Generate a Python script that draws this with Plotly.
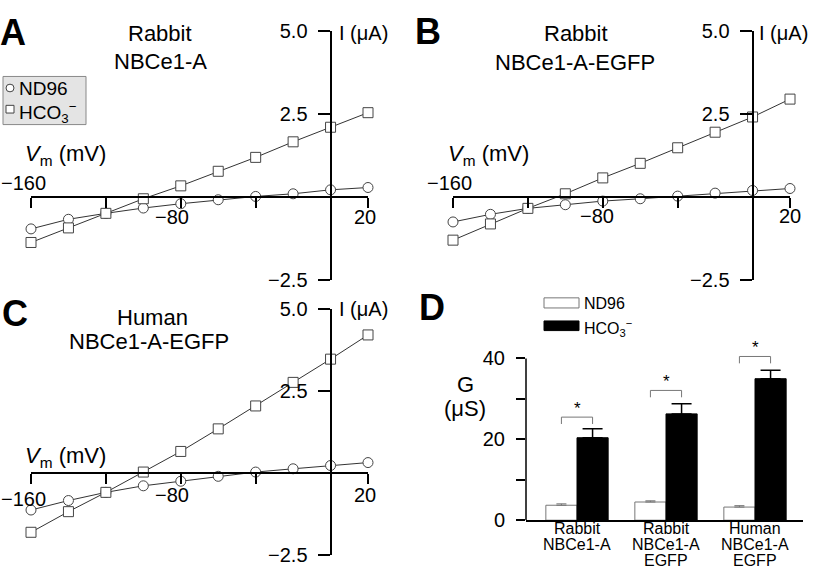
import plotly.graph_objects as go

W, H = 819, 588
FONT = "Liberation Sans, Arial, Helvetica, sans-serif"

# ---------------- data ----------------
voltages = [-160, -140, -120, -100, -80, -60, -40, -20, 0, 20]
a_nd96 = [-0.97, -0.68, -0.50, -0.34, -0.21, -0.09, 0.01, 0.09, 0.21, 0.28]
a_hco3 = [-1.38, -0.94, -0.50, -0.06, 0.33, 0.77, 1.19, 1.66, 2.10, 2.54]
b_nd96 = [-0.76, -0.53, -0.35, -0.24, -0.13, -0.06, 0.02, 0.11, 0.19, 0.25]
b_hco3 = [-1.31, -0.82, -0.35, 0.09, 0.57, 1.01, 1.48, 1.95, 2.41, 2.95]
c_nd96 = [-1.13, -0.84, -0.59, -0.39, -0.25, -0.10, 0.03, 0.13, 0.23, 0.32]
c_hco3 = [-1.81, -1.18, -0.59, 0.03, 0.66, 1.35, 2.05, 2.77, 3.48, 4.22]

v_ticks = [-160, -120, -80, -40, 20]
i_ticks = [-2.5, 2.5, 5.0]
i_tick_text = ["\u22122.5", "2.5", "5.0"]

groups = ["Rabbit<br>NBCe1-A", "Rabbit<br>NBCe1-A<br>EGFP", "Human<br>NBCe1-A<br>EGFP"]
g_nd96 = [3.7, 4.5, 3.25]
g_nd96_err = [0.35, 0.3, 0.35]
g_hco3 = [20.4, 26.3, 35.0]
g_hco3_err = [2.2, 2.5, 2.1]
g_major = [0, 20, 40]
g_minor = [10, 30]


def px(x):
    return x / W


def py(y):
    return 1 - y / H


fig = go.Figure()

# panel geometry (pixels): left, right, top, bottom
panels = {
    "A": dict(n="", box=(31, 368, 21, 279), nd=a_nd96, hc=a_hco3),
    "B": dict(n="2", box=(453, 790, 21, 279), nd=b_nd96, hc=b_hco3),
    "C": dict(n="3", box=(31, 368, 310, 565), nd=c_nd96, hc=c_hco3),
}

marker_common = dict(size=10, color="white", line=dict(color="#444", width=1))
axis_font = dict(family=FONT, size=20, color="black")

for key, p in panels.items():
    n = p["n"]
    l, r, t, b = p["box"]
    zero_y = t + (5.0 / 7.5) * (b - t)
    zero_x = l + (160 / 180) * (r - l)
    xa = "x" + n
    ya = "y" + n
    for vals, sym in ((p["nd"], "circle"), (p["hc"], "square")):
        fig.add_trace(go.Scatter(
            x=voltages, y=vals, mode="lines+markers", xaxis=xa, yaxis=ya,
            line=dict(color="#333", width=1),
            marker=dict(symbol=sym, **marker_common),
            cliponaxis=False, showlegend=False, hoverinfo="skip"))
    fig.update_layout(**{
        "xaxis" + n: dict(domain=[px(l), px(r)], range=[-160, 20], anchor="free",
                          position=py(zero_y), showline=True, linecolor="black",
                          linewidth=2, ticks="outside", ticklen=10, tickwidth=2,
                          tickcolor="black", tickvals=v_ticks, showticklabels=False,
                          showgrid=False, zeroline=False, fixedrange=True),
        "yaxis" + n: dict(domain=[py(b), py(t)], range=[-2.5, 5.0], anchor="free",
                          position=px(zero_x), showline=True, linecolor="black",
                          linewidth=2, ticks="outside", ticklen=12, tickwidth=2,
                          tickcolor="black", tickvals=i_ticks, ticktext=i_tick_text,
                          tickfont=axis_font, ticklabelstandoff=6,
                          showgrid=False, zeroline=False, fixedrange=True),
    })

annotations = []


def ann(text, x, y, size=22, xanchor="center", yanchor="middle", bold=False,
        xref="paper", yref="paper", xshift=0, yshift=0, color="black"):
    if bold:
        text = "<b>" + text + "</b>"
    annotations.append(dict(text=text, x=x, y=y, xref=xref, yref=yref,
                            xanchor=xanchor, yanchor=yanchor, showarrow=False,
                            xshift=xshift, yshift=yshift,
                            font=dict(family=FONT, size=size, color=color)))


# x tick labels of the I-V panels (shifts in pixels relative to tick)
xt_labels = {
    "A": [(-160, -7, 14), (-80, -9, -20), (20, -3, -20)],
    "B": [(-160, -4, 14), (-80, -6, -19), (20, 0, -19)],
    "C": [(-160, -7, -26), (-80, -9, -22), (20, -3, -22)],
}
for key, lst in xt_labels.items():
    n = panels[key]["n"]
    for v, dx, dy in lst:
        ann("\u2212" + str(-v) if v < 0 else str(v), v, 0, size=20,
            xref="x" + n, yref="y" + n, xshift=dx, yshift=dy)

# titles
ann("Rabbit", px(160), py(23))
ann("NBCe1-A", px(160), py(52))
ann("Rabbit", px(576), py(23))
ann("NBCe1-A-EGFP", px(575), py(53))
ann("Human", px(152), py(318))
ann("NBCe1-A-EGFP", px(149), py(343))

# axis titles
for (xl, yc) in ((337, 23), (757, 23), (337, 310)):
    ann("I (\u03bcA)", px(xl), py(yc), size=20, xanchor="left")
for (xl, yc) in ((23, 150), (446, 150), (23, 463)):
    ann("<i>V</i><sub>m</sub> (mV)", px(xl), py(yc), size=22, xanchor="left")

# panel letters
ann("A", px(13), py(22), size=36, bold=True)
ann("B", px(428), py(21), size=36, bold=True)
ann("C", px(15), py(314), size=36, bold=True)
ann("D", px(432), py(308), size=36, bold=True)

shapes = []

# legend for panel A
shapes.append(dict(type="rect", xref="paper", yref="paper", x0=px(3), x1=px(86),
                   y0=py(118), y1=py(68), fillcolor="#e4e4e4",
                   line=dict(color="#888", width=1)))
shapes.append(dict(type="circle", xref="paper", yref="paper", x0=px(6), x1=px(14),
                   y0=py(84), y1=py(76), fillcolor="white",
                   line=dict(color="#444", width=1)))
shapes.append(dict(type="rect", xref="paper", yref="paper", x0=px(6), x1=px(14),
                   y0=py(106), y1=py(98), fillcolor="white",
                   line=dict(color="#444", width=1)))
ann("ND96", px(17), py(81), size=19, xanchor="left")
ann("HCO<sub>3</sub><sup>\u2212</sup>", px(17), py(105), size=19, xanchor="left")

# ---------------- panel D ----------------
gx = list(range(len(groups)))
bw = 0.35
fig.add_trace(go.Bar(
    x=gx, y=g_nd96, width=bw, offset=-bw, xaxis="x4", yaxis="y4",
    marker=dict(color="white", line=dict(color="#777", width=1)),
    error_y=dict(type="data", symmetric=False, array=g_nd96_err,
                 arrayminus=[0] * len(g_nd96), color="#777", thickness=1, width=5),
    showlegend=False, hoverinfo="skip"))
fig.add_trace(go.Bar(
    x=gx, y=g_hco3, width=bw, offset=0, xaxis="x4", yaxis="y4",
    marker=dict(color="black", line=dict(color="black", width=1)),
    error_y=dict(type="data", symmetric=False, array=g_hco3_err,
                 arrayminus=[0] * len(g_hco3), color="black", thickness=1.5, width=10),
    showlegend=False, hoverinfo="skip"))

d_l, d_r, d_base = 526, 803, 529
unit = 168 / 40.0
ymax = 43
d_top = d_base - ymax * unit
g0 = 577
gstep = 89
xmin = (d_l - g0) / gstep
xmax = (d_r - g0) / gstep
fig.update_layout(
    barmode="overlay",
    xaxis4=dict(domain=[px(d_l), px(d_r)], range=[xmin, xmax], anchor="y4",
                showline=True, linecolor="black", linewidth=1.5, ticks="",
                showticklabels=False, showgrid=False, zeroline=False, fixedrange=True),
    yaxis4=dict(domain=[py(d_base), py(d_top)], range=[0, ymax], anchor="x4",
                showline=False, ticks="outside", ticklen=9, tickwidth=1.5,
                tickcolor="black", tickvals=g_major,
                minor=dict(tickvals=g_minor, ticks="outside", ticklen=9,
                           tickwidth=1.5, tickcolor="black", showgrid=False),
                tickfont=dict(family=FONT, size=20, color="black"),
                ticklabelstandoff=7,
                showgrid=False, zeroline=False, fixedrange=True),
)
# y axis line of D ending at 40
shapes.append(dict(type="line", xref="x4 domain", yref="y4", x0=0, x1=0, y0=0, y1=40,
                   line=dict(color="black", width=1.5)))

# significance brackets
for i, (top, leg) in enumerate(zip([25.5, 32.1, 40.5], [23.8, 30.4, 38.8])):
    xa_, xb_ = i - bw / 2, i + bw / 2
    shapes.append(dict(type="path", xref="x4", yref="y4",
                       path=f"M {xa_},{leg} L {xa_},{top} L {xb_},{top} L {xb_},{leg}",
                       line=dict(color="#777", width=1)))
    ann("*", i, top, size=17, xref="x4", yref="y4", yanchor="bottom", yshift=-3)

# category labels (one annotation per line)
for i, g in enumerate(groups):
    for j, line in enumerate(g.split("<br>")):
        ann(line, i, py(538 + 16.5 * j), size=16, xref="x4")

ann("G", px(465), py(388), size=22)
ann("(\u03bcS)", px(465), py(413), size=22)

# legend D
shapes.append(dict(type="rect", xref="paper", yref="paper", x0=px(544), x1=px(579),
                   y0=py(308.5), y1=py(298), fillcolor="white",
                   line=dict(color="#777", width=1)))
shapes.append(dict(type="rect", xref="paper", yref="paper", x0=px(544), x1=px(579),
                   y0=py(332), y1=py(322), fillcolor="black",
                   line=dict(color="black", width=1)))
ann("ND96", px(582), py(304), size=16, xanchor="left")
ann("HCO<sub>3</sub><sup>\u2212</sup>", px(582), py(329), size=16, xanchor="left")

fig.update_layout(
    width=W, height=H, margin=dict(l=0, r=0, t=0, b=0),
    paper_bgcolor="white", plot_bgcolor="rgba(0,0,0,0)",
    font=dict(family=FONT, color="black"),
    annotations=annotations, shapes=shapes, showlegend=False,
)

fig.write_html("out.html", config={"displayModeBar": False},
               post_script="document.body.style.margin='0px';")
